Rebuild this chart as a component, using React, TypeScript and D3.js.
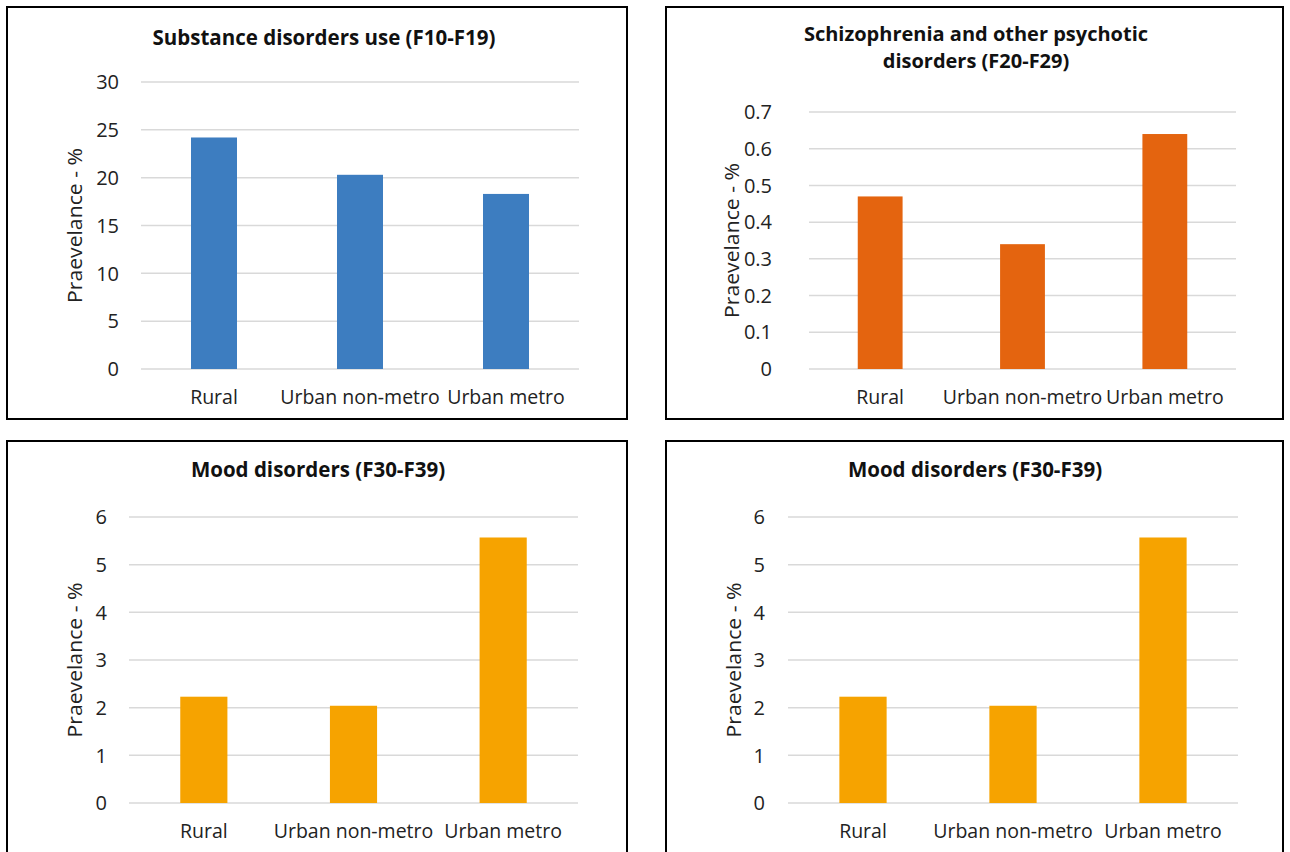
import React from "react";
import * as d3 from "d3";

const categories = ["Rural", "Urban non-metro", "Urban metro"];

const substanceValues = [24.2, 20.3, 18.3];
const substanceTicks = [0, 5, 10, 15, 20, 25, 30];

const schizoValues = [0.47, 0.34, 0.64];
const schizoTicks = [0, 0.1, 0.2, 0.3, 0.4, 0.5, 0.6, 0.7];

const moodValues = [2.23, 2.04, 5.57];
const moodTicks = [0, 1, 2, 3, 4, 5, 6];

const yAxisTitle = "Praevelance - %";

type PanelProps = {
  box: [number, number, number, number];
  titleLines: string[];
  titleX: number;
  titleY: number;
  titleGap: number;
  titleSize: number;
  values: number[];
  ticks: number[];
  xRange: [number, number];
  yRange: [number, number];
  color: string;
  tickRight: number;
  yTitleX: number;
  xLabelY: number;
};

const FONT = "'Open Sans', 'Noto Sans', sans-serif";

function Panel(p: PanelProps) {
  const x = d3.scaleBand<string>().domain(categories).range(p.xRange).paddingInner(0.685).paddingOuter(0.3425);
  const y = d3.scaleLinear().domain([0, p.ticks[p.ticks.length - 1]]).range(p.yRange);
  const [bx, by, bw, bh] = p.box;
  const yMid = (p.yRange[0] + p.yRange[1]) / 2;
  return (
    <g>
      <rect x={bx} y={by} width={bw} height={bh} fill="#fff" stroke="#000" strokeWidth={2} />
      {p.titleLines.map((t, i) => (
        <text key={i} x={p.titleX} y={p.titleY + i * p.titleGap} textAnchor="middle" fontFamily={FONT} fontWeight={700} fontSize={p.titleSize} fill="#111">
          {t}
        </text>
      ))}
      {p.ticks.map((t) => (
        <g key={t}>
          <line x1={p.xRange[0]} x2={p.xRange[1]} y1={y(t)} y2={y(t)} stroke="#d9d9d9" strokeWidth={1.5} />
          <text x={p.tickRight} y={y(t)} dy="0.36em" textAnchor="end" fontFamily={FONT} fontSize={20} fill="#222">
            {String(t)}
          </text>
        </g>
      ))}
      {p.values.map((v, i) => (
        <rect key={i} x={x(categories[i])} y={y(v)} width={x.bandwidth()} height={y(0) - y(v)} fill={p.color} />
      ))}
      {categories.map((c) => (
        <text key={c} x={(x(c) as number) + x.bandwidth() / 2} y={p.xLabelY} textAnchor="middle" fontFamily={FONT} fontSize={19.5} fill="#222">
          {c}
        </text>
      ))}
      <text
        transform={`translate(${p.yTitleX},${yMid}) rotate(-90)`}
        textAnchor="middle"
        dy="0.35em"
        fontFamily={FONT}
        fontSize={20}
        fill="#222"
        textLength={155}
        lengthAdjust="spacingAndGlyphs"
      >
        {yAxisTitle}
      </text>
    </g>
  );
}

export default function App() {
  return (
    <svg width={1290} height={852} style={{ position: "absolute", left: 0, top: 0, background: "#fff" }}>
      <rect x={0} y={0} width={1290} height={852} fill="#fff" />
      <Panel
        box={[7, 7, 620, 412]}
        titleLines={["Substance disorders use (F10-F19)"]}
        titleX={324}
        titleY={45}
        titleGap={0}
        titleSize={20.5}
        values={substanceValues}
        ticks={substanceTicks}
        xRange={[141, 579]}
        yRange={[369, 82]}
        color="#3d7dc0"
        tickRight={119}
        yTitleX={75}
        xLabelY={404}
      />
      <Panel
        box={[666, 7, 617, 412]}
        titleLines={["Schizophrenia and other psychotic", "disorders (F20-F29)"]}
        titleX={976}
        titleY={41}
        titleGap={27}
        titleSize={20}
        values={schizoValues}
        ticks={schizoTicks}
        xRange={[809, 1236]}
        yRange={[369, 112]}
        color="#e4640f"
        tickRight={772}
        yTitleX={732}
        xLabelY={404}
      />
      <Panel
        box={[7, 441, 620, 420]}
        titleLines={["Mood disorders (F30-F39)"]}
        titleX={318}
        titleY={477}
        titleGap={0}
        titleSize={20.5}
        values={moodValues}
        ticks={moodTicks}
        xRange={[129, 578]}
        yRange={[803, 517]}
        color="#f6a300"
        tickRight={107}
        yTitleX={75}
        xLabelY={838}
      />
      <Panel
        box={[666, 441, 617, 420]}
        titleLines={["Mood disorders (F30-F39)"]}
        titleX={975}
        titleY={477}
        titleGap={0}
        titleSize={20.5}
        values={moodValues}
        ticks={moodTicks}
        xRange={[788, 1238]}
        yRange={[803, 517]}
        color="#f6a300"
        tickRight={765}
        yTitleX={734}
        xLabelY={838}
      />
    </svg>
  );
}
